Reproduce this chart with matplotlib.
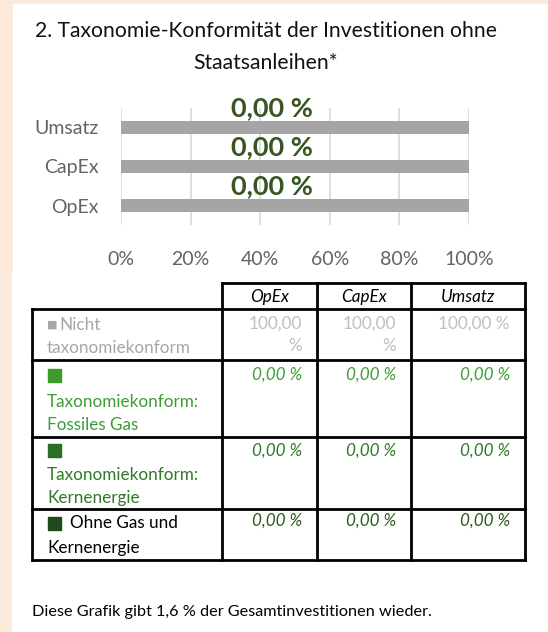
import matplotlib.pyplot as plt
from matplotlib.patches import Rectangle

# Daten
categories = ['OpEx', 'CapEx', 'Umsatz']
nicht_konform = [100.0, 100.0, 100.0]
fossiles_gas = [0.0, 0.0, 0.0]
kernenergie = [0.0, 0.0, 0.0]
ohne_gas_kern = [0.0, 0.0, 0.0]
xticks = [0, 20, 40, 60, 80, 100]

title = '2. Taxonomie-Konformität der Investitionen ohne\nStaatsanleihen*'
footer = 'Diese Grafik gibt 1,6 % der Gesamtinvestitionen wieder.'

FONT = ['Lato', 'DejaVu Sans']
plt.rcParams['font.family'] = FONT

W, H = 548, 632
fig = plt.figure(figsize=(W / 100, H / 100), dpi=100)
fig.patch.set_facecolor('#FBE9DA')

# hintergrund in pixel-koordinaten
bg = fig.add_axes([0, 0, 1, 1])
bg.set_xlim(0, W)
bg.set_ylim(H, 0)
bg.axis('off')
bg.add_patch(Rectangle((13, 4), W - 13, 268, color='white', zorder=0))
bg.add_patch(Rectangle((12, 272), W - 13, H - 272, color='white', zorder=0))

bg.text(266, 47, title, ha='center', va='center', fontsize=15.2,
        linespacing=1.75, color='#111111')


def fmt(v):
    return f'{v:.2f}'.replace('.', ',') + ' %'


# balkendiagramm
ax = fig.add_axes([121 / W, (H - 225) / H, 348 / W, 117 / H])
konform = [a + b + c for a, b, c in zip(fossiles_gas, kernenergie, ohne_gas_kern)]
ypos = list(range(len(categories)))
ax.barh(ypos, konform, height=0.34, color='#2E5E26', zorder=2)
ax.barh(ypos, nicht_konform, left=konform, height=0.34, color='#A5A5A5', zorder=2)
for y, v in zip(ypos, konform):
    ax.text(43.5, y + 0.5, fmt(v), ha='center', va='center', fontsize=19.5,
            fontweight='bold', color='#375623', zorder=3)
ax.set_xlim(0, 100)
ax.set_ylim(-0.5, 2.5)
ax.set_xticks(xticks)
ax.set_xticklabels([f'{t}%' for t in xticks])
ax.set_yticks(ypos)
ax.set_yticklabels(categories)
ax.grid(axis='x', color='#D9D9D9', lw=1.2, zorder=0)
for s in ax.spines.values():
    s.set_visible(False)
ax.tick_params(length=0, labelsize=14, labelcolor='#636363')
ax.tick_params(axis='x', pad=19)
ax.tick_params(axis='y', pad=16)
ax.set_facecolor('none')

# tabelle
col_x = [32, 222, 317, 411, 525]
row_y = [283, 309, 360, 437, 509, 560]
lw = 2.0
# kopfzeile (nur wertespalten)
bg.plot([col_x[1], col_x[-1]], [row_y[0], row_y[0]], color='black', lw=lw)
for x in col_x[1:]:
    bg.plot([x, x], [row_y[0], row_y[-1]], color='black', lw=lw)
bg.plot([col_x[0], col_x[0]], [row_y[1], row_y[-1]], color='black', lw=lw)
for y in row_y[1:]:
    bg.plot([col_x[0], col_x[-1]], [y, y], color='black', lw=lw)

FS = 12.3
for i, c in enumerate(categories):
    bg.text((col_x[i + 1] + col_x[i + 2]) / 2, 297, c, ha='center', va='center',
            fontsize=FS, style='italic', color='black')

rows = [
    (nicht_konform, '#BFBFBF'),
    (fossiles_gas, '#3E9E35'),
    (kernenergie, '#2F7A27'),
    (ohne_gas_kern, '#2B5A23'),
]
val_y = [325, 376, 452, 522]
for (vals, col), vy in zip(rows, val_y):
    for i, v in enumerate(vals):
        s = fmt(v)
        if col_x[i + 2] - col_x[i + 1] < 100 and len(s) > 6:
            s = s.replace(' ', '\n')
        bg.text(col_x[i + 2] - 15, vy - 9, s, ha='right', va='top', fontsize=FS,
                style='italic' if vals is not nicht_konform else 'normal',
                color=col, linespacing=1.45)

# beschriftungen der zeilen
tx = 47
bg.text(tx, 325, '\u25a0', ha='left', va='center', fontsize=8, color='#A6A6A6',
        family='DejaVu Sans')
bg.text(tx + 12, 325, 'Nicht', ha='left', va='center', fontsize=FS, color='#A6A6A6')
bg.text(tx, 348, 'taxonomiekonform', ha='left', va='center', fontsize=FS, color='#A6A6A6')

bg.add_patch(Rectangle((48, 369), 13, 13, color='#3A9A2A'))
bg.text(tx, 402, 'Taxonomiekonform:', ha='left', va='center', fontsize=FS, color='#3C9C34')
bg.text(tx, 425, 'Fossiles Gas', ha='left', va='center', fontsize=FS, color='#3C9C34')

bg.add_patch(Rectangle((48, 444), 13, 13, color='#2C6E23'))
bg.text(tx, 475, 'Taxonomiekonform:', ha='left', va='center', fontsize=FS, color='#2F7A27')
bg.text(tx, 498, 'Kernenergie', ha='left', va='center', fontsize=FS, color='#2F7A27')

bg.add_patch(Rectangle((48, 517), 13, 13, color='#1F4A1C'))
bg.text(70, 523, 'Ohne Gas und', ha='left', va='center', fontsize=FS, color='black')
bg.text(tx, 548, 'Kernenergie', ha='left', va='center', fontsize=FS, color='black')

bg.text(32, 612, footer, ha='left', va='center', fontsize=11.7, color='black')

fig.savefig('out.png', dpi=100, facecolor=fig.get_facecolor())
